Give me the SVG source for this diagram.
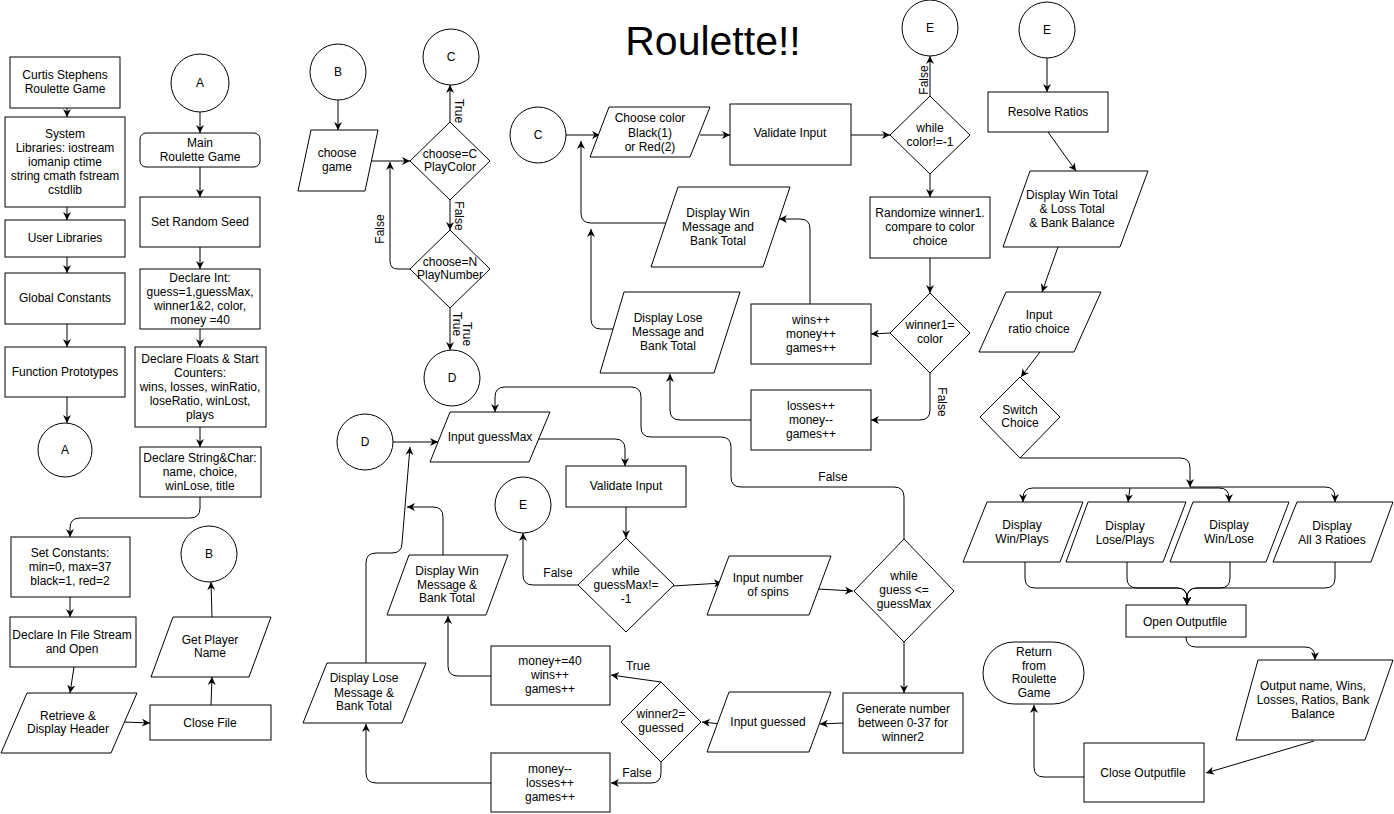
<svg xmlns="http://www.w3.org/2000/svg" width="1394" height="814" viewBox="0 0 1394 814">
<style>
.s{fill:#fff;stroke:#000;stroke-width:1}
text{font-family:'Liberation Sans',Arial,Helvetica,sans-serif;font-size:12px;fill:#000;text-anchor:middle}
.e{fill:none;stroke:#000;stroke-width:1;marker-end:url(#ah)}
.title{font-size:41px}
</style>
<defs>
<marker id="ah" viewBox="0 0 10 10" refX="10" refY="5" markerWidth="8" markerHeight="8" markerUnits="userSpaceOnUse" orient="auto">
<path d="M0,0 L10,5 L0,10 L3,5 z" fill="#000"/>
</marker>
</defs>
<rect width="1394" height="814" fill="#fff"/>
<text class="title" x="713" y="55">Roulette!!</text>

<g id="connectors">
<path class="e" d="M67,108 L67,117"/>
<path class="e" d="M67,207 L67,220"/>
<path class="e" d="M67,257 L67,273"/>
<path class="e" d="M67,324 L67,347"/>
<path class="e" d="M67,397 L67,423"/>
<path class="e" d="M200,112 L200,133"/>
<path class="e" d="M200,167 L200,197"/>
<path class="e" d="M200,247 L200,269"/>
<path class="e" d="M200,329 L200,347"/>
<path class="e" d="M200,427 L200,447"/>
<path class="e" d="M200,497 L200,508 Q200,518 190,518 L80,518 Q70,518 70,528 L70,537"/>
<path class="e" d="M70,597 L70,617"/>
<path class="e" d="M74,667 L70,693"/>
<path class="e" d="M124,722 L150,723"/>
<path class="e" d="M211,705 L212,677"/>
<path class="e" d="M212,617 L211,582"/>
<path class="e" d="M338,100 L338,130"/>
<path class="e" d="M371,161 L410,161"/>
<path class="e" d="M450,122 L450,85"/>
<path class="e" d="M450,200 L450,230"/>
<path class="e" d="M410,269 L398,269 Q390,269 390,261 L390,162"/>
<path class="e" d="M450,308 L450,350"/>
<path class="e" d="M566,135 L600,135"/>
<path class="e" d="M700,135 L730,135"/>
<path class="e" d="M851,135 L890,135"/>
<path class="e" d="M930,96 L930,56"/>
<path class="e" d="M930,174 L930,197"/>
<path class="e" d="M930,258 L930,293"/>
<path class="e" d="M890,333 L871,334"/>
<path class="e" d="M810,304 L810,229 Q810,219 800,219 L779,219"/>
<path class="e" d="M666,223 L591,223 Q581,223 581,213 L581,141"/>
<path class="e" d="M613,329 L601,329 Q591,329 591,319 L591,229"/>
<path class="e" d="M930,373 L930,410 Q930,420 920,420 L871,420"/>
<path class="e" d="M751,420 L680,420 Q670,420 670,410 L670,374"/>
<path class="e" d="M393,442 L438,442"/>
<path class="e" d="M539,439 L615,439 Q625,439 625,449 L625,466"/>
<path class="e" d="M626,507 L626,538"/>
<path class="e" d="M578,585 L533,585 Q523,585 523,575 L523,533"/>
<path class="e" d="M673,586 L722,583"/>
<path class="e" d="M818,589 L853,591"/>
<path class="e" d="M904,539 L904,497 Q904,487 894,487 L741,487 Q731,487 731,477 L731,447 Q731,437 721,437 L651,437 Q641,437 641,427 L641,397 Q641,387 631,387 L505,387 Q495,387 495,397 L495,412"/>
<path class="e" d="M904,642 L904,693"/>
<path class="e" d="M843,723 L820,724"/>
<path class="e" d="M722,724 L702,722"/>
<path class="e" d="M661,682 L611,675"/>
<path class="e" d="M491,676 L458,676 Q448,676 448,666 L448,616"/>
<path class="e" d="M443,555 L443,517 Q443,507 433,507 L407,507"/>
<path class="e" d="M366,663 L366,563 Q366,553 376,553 L392,553 Q402,553 402,543 L410,447"/>
<path class="e" d="M661,762 L661,773 Q661,783 651,783 L611,783"/>
<path class="e" d="M491,783 L376,783 Q366,783 366,773 L366,724"/>
<path class="e" d="M1047,58 L1047,92"/>
<path class="e" d="M1048,132 L1076,171"/>
<path class="e" d="M1058,247 L1042,292"/>
<path class="e" d="M1040,352 L1021,377"/>
<path class="e" d="M1020,458 L1180,458 Q1190,458 1190,468 L1190,487"/>
<path class="e" d="M1190,488 L1033,488 Q1023,488 1023,498 L1023,502"/>
<path class="e" d="M1130,488 L1128,502"/>
<path class="e" d="M1190,488 L1219,488 Q1229,488 1229,498 L1229,502"/>
<path class="e" d="M1190,487 L1325,487 Q1335,487 1335,497 L1335,502"/>
<path class="e" d="M1025,562 L1025,578 Q1025,588 1035,588 L1177,588 Q1187,588 1187,598 L1187,605"/>
<path class="e" d="M1127,562 L1127,578 Q1127,588 1137,588 L1177,588 Q1187,588 1187,598 L1187,605"/>
<path class="e" d="M1230,562 L1230,578 Q1230,588 1220,588 L1197,588 Q1187,588 1187,598 L1187,605"/>
<path class="e" d="M1335,562 L1335,578 Q1335,588 1325,588 L1197,588 Q1187,588 1187,598 L1187,605"/>
<path class="e" d="M1186,637 Q1186,647 1196,647 L1305,647 Q1315,647 1315,657 L1315,660"/>
<path class="e" d="M1314,741 L1206,773"/>
<path class="e" d="M1084,777 L1044,777 Q1034,777 1034,767 L1034,705"/>
<text transform="translate(459,111) rotate(90)" x="0" y="4">True</text>
<text transform="translate(459,216) rotate(90)" x="0" y="4">False</text>
<text transform="translate(380,229) rotate(-90)" x="0" y="4">False</text>
<text transform="translate(457,324) rotate(90)" x="0" y="4">True</text>
<text transform="translate(467,334) rotate(90)" x="0" y="4">True</text>
<text transform="translate(924,80) rotate(-90)" x="0" y="4">False</text>
<text transform="translate(942,402) rotate(90)" x="0" y="4">False</text>
<text x="833" y="481">False</text>
<text x="558" y="577">False</text>
<text x="638" y="670">True</text>
<text x="637" y="777">False</text>
</g>

<g id="n_curtis"><rect class="s" x="10" y="57" width="110" height="51"/><text x="65" y="79">Curtis Stephens</text><text x="65" y="93">Roulette Game</text></g>
<g id="n_syslib"><rect class="s" x="5" y="117" width="120" height="90"/><text x="65" y="138">System</text><text x="65" y="152">Libraries: iostream</text><text x="65" y="166">iomanip ctime</text><text x="65" y="180">string cmath fstream</text><text x="65" y="194">cstdlib</text></g>
<g id="n_userlib"><rect class="s" x="5" y="220" width="120" height="37"/><text x="65" y="242">User Libraries</text></g>
<g id="n_globconst"><rect class="s" x="5" y="273" width="120" height="51"/><text x="65" y="302">Global Constants</text></g>
<g id="n_funcproto"><rect class="s" x="5" y="347" width="120" height="50"/><text x="65" y="376">Function Prototypes</text></g>
<g id="n_a1"><circle class="s" cx="65" cy="450" r="27"/><text x="65" y="454">A</text></g>

<g id="n_a2"><circle class="s" cx="200" cy="83" r="29"/><text x="200" y="87">A</text></g>
<g id="n_main"><rect class="s" x="140" y="133" width="120" height="34" rx="6"/><text x="200" y="147">Main</text><text x="200" y="161">Roulette Game</text></g>
<g id="n_seed"><rect class="s" x="140" y="197" width="120" height="50"/><text x="200" y="226">Set Random Seed</text></g>
<g id="n_int"><rect class="s" x="140" y="269" width="120" height="60"/><text x="200" y="282">Declare Int:</text><text x="200" y="296">guess=1,guessMax,</text><text x="200" y="310">winner1&amp;2, color,</text><text x="200" y="324">money =40</text></g>
<g id="n_floats"><rect class="s" x="135" y="347" width="131" height="80"/><text x="200" y="363">Declare Floats &amp; Start</text><text x="200" y="377">Counters:</text><text x="200" y="391">wins, losses, winRatio,</text><text x="200" y="405">loseRatio, winLost,</text><text x="200" y="419">plays</text></g>
<g id="n_string"><rect class="s" x="140" y="447" width="121" height="50"/><text x="200" y="462">Declare String&amp;Char:</text><text x="200" y="476">name, choice,</text><text x="200" y="490">winLose, title</text></g>
<g id="n_setconst"><rect class="s" x="11" y="537" width="119" height="60"/><text x="70" y="557">Set Constants:</text><text x="70" y="571">min=0, max=37</text><text x="70" y="585">black=1, red=2</text></g>
<g id="n_instream"><rect class="s" x="10" y="617" width="126" height="50"/><text x="72" y="639">Declare In File Stream</text><text x="72" y="653">and Open</text></g>
<g id="n_retrieve"><polygon class="s" points="27,693 137,693 111,753 1,753"/><text x="68" y="720">Retrieve &amp;</text><text x="68" y="733">Display Header</text></g>
<g id="n_closefile"><rect class="s" x="150" y="705" width="121" height="35"/><text x="210" y="727">Close File</text></g>
<g id="n_getname"><polygon class="s" points="173,617 271,617 249,677 151,677"/><text x="210" y="644">Get Player</text><text x="210" y="657">Name</text></g>
<g id="n_b1"><circle class="s" cx="209" cy="554" r="28"/><text x="209" y="558">B</text></g>

<g id="n_b2"><circle class="s" cx="338" cy="72" r="28"/><text x="338" y="76">B</text></g>
<g id="n_choosegame"><polygon class="s" points="311,130 378,130 365,191 298,191"/><text x="337" y="157">choose</text><text x="337" y="171">game</text></g>
<g id="n_dC"><polygon class="s" points="450,122 490,161 450,200 410,161"/><text x="450" y="158">choose=C</text><text x="450" y="171">PlayColor</text></g>
<g id="n_c1"><circle class="s" cx="451" cy="57" r="28"/><text x="451" y="61">C</text></g>
<g id="n_dN"><polygon class="s" points="450,230 490,269 450,308 410,269"/><text x="450" y="266">choose=N</text><text x="450" y="279">PlayNumber</text></g>
<g id="n_d1"><circle class="s" cx="452" cy="378" r="28"/><text x="452" y="382">D</text></g>

<g id="n_c2"><circle class="s" cx="538" cy="135" r="28"/><text x="538" y="139">C</text></g>
<g id="n_choosecolor"><polygon class="s" points="609,107 710,107 690,157 590,157"/><text x="650" y="122">Choose color</text><text x="650" y="137">Black(1)</text><text x="650" y="151">or Red(2)</text></g>
<g id="n_validate1"><rect class="s" x="730" y="104" width="121" height="61"/><text x="790" y="137">Validate Input</text></g>
<g id="n_whilecolor"><polygon class="s" points="930,96 970,135 930,174 890,135"/><text x="930" y="132">while</text><text x="930" y="146">color!=-1</text></g>
<g id="n_e1"><circle class="s" cx="930" cy="28" r="28"/><text x="930" y="32">E</text></g>
<g id="n_randomize"><rect class="s" x="870" y="197" width="120" height="61"/><text x="930" y="217">Randomize winner1.</text><text x="930" y="231">compare to color</text><text x="930" y="245">choice</text></g>
<g id="n_winner1"><polygon class="s" points="930,293 970,333 930,373 890,333"/><text x="930" y="329">winner1=</text><text x="930" y="343">color</text></g>
<g id="n_wins1"><rect class="s" x="751" y="304" width="120" height="60"/><text x="811" y="324">wins++</text><text x="811" y="338">money++</text><text x="811" y="352">games++</text></g>
<g id="n_losses1"><rect class="s" x="751" y="390" width="120" height="60"/><text x="811" y="410">losses++</text><text x="811" y="424">money--</text><text x="811" y="438">games++</text></g>
<g id="n_dispwin1"><polygon class="s" points="678,187 790,187 763,267 651,267"/><text x="718" y="217">Display Win</text><text x="718" y="231">Message and</text><text x="718" y="245">Bank Total</text></g>
<g id="n_displose1"><polygon class="s" points="624,292 740,292 714,373 600,373"/><text x="668" y="322">Display Lose</text><text x="668" y="336">Message and</text><text x="668" y="350">Bank Total</text></g>

<g id="n_d2"><circle class="s" cx="365" cy="442" r="28"/><text x="365" y="446">D</text></g>
<g id="n_inputmax"><polygon class="s" points="450,412 550,412 529,462 430,462"/><text x="490" y="441">Input guessMax</text></g>
<g id="n_validate2"><rect class="s" x="566" y="466" width="120" height="41"/><text x="626" y="490">Validate Input</text></g>
<g id="n_whilemax"><polygon class="s" points="626,538 674,585 626,632 578,585"/><text x="626" y="575">while</text><text x="626" y="589">guessMax!=</text><text x="626" y="603">-1</text></g>
<g id="n_e2"><circle class="s" cx="523" cy="505" r="28"/><text x="523" y="509">E</text></g>
<g id="n_spins"><polygon class="s" points="729,556 831,556 809,615 707,615"/><text x="768" y="582">Input number</text><text x="768" y="596">of spins</text></g>
<g id="n_whileguess"><polygon class="s" points="904,539 954,591 904,642 854,591"/><text x="904" y="580">while</text><text x="904" y="594">guess &lt;=</text><text x="904" y="608">guessMax</text></g>
<g id="n_generate"><rect class="s" x="843" y="693" width="120" height="60"/><text x="903" y="713">Generate number</text><text x="903" y="727">between 0-37 for</text><text x="903" y="741">winner2</text></g>
<g id="n_inputguessed"><polygon class="s" points="729,692 831,692 809,752 707,752"/><text x="768" y="726">Input guessed</text></g>
<g id="n_winner2"><polygon class="s" points="661,682 701,722 661,762 621,722"/><text x="661" y="718">winner2=</text><text x="661" y="732">guessed</text></g>
<g id="n_winmoney"><rect class="s" x="491" y="646" width="119" height="59"/><text x="550" y="665">money+=40</text><text x="550" y="679">wins++</text><text x="550" y="693">games++</text></g>
<g id="n_losemoney"><rect class="s" x="491" y="753" width="119" height="59"/><text x="550" y="773">money--</text><text x="550" y="787">losses++</text><text x="550" y="801">games++</text></g>
<g id="n_dispwin2"><polygon class="s" points="409,555 508,555 486,615 387,615"/><text x="447" y="575">Display Win</text><text x="447" y="589">Message &amp;</text><text x="447" y="602">Bank Total</text></g>
<g id="n_displose2"><polygon class="s" points="327,663 426,663 402,723 303,723"/><text x="364" y="682">Display Lose</text><text x="364" y="697">Message &amp;</text><text x="364" y="710">Bank Total</text></g>

<g id="n_e3"><circle class="s" cx="1047" cy="30" r="28"/><text x="1047" y="34">E</text></g>
<g id="n_resolve"><rect class="s" x="988" y="92" width="120" height="40"/><text x="1048" y="116">Resolve Ratios</text></g>
<g id="n_disptotal"><polygon class="s" points="1030,171 1148,171 1120,247 1003,247"/><text x="1072" y="199">Display Win Total</text><text x="1072" y="213">&amp; Loss Total</text><text x="1072" y="227">&amp; Bank Balance</text></g>
<g id="n_inputratio"><polygon class="s" points="1006,292 1101,292 1074,352 979,352"/><text x="1039" y="319">Input</text><text x="1039" y="333">ratio choice</text></g>
<g id="n_switch"><polygon class="s" points="1020,377 1060,417 1020,458 980,417"/><text x="1020" y="414">Switch</text><text x="1020" y="427">Choice</text></g>
<g id="n_winplays"><polygon class="s" points="987,502 1083,502 1060,562 963,562"/><text x="1022" y="529">Display</text><text x="1022" y="543">Win/Plays</text></g>
<g id="n_loseplays"><polygon class="s" points="1088,502 1186,502 1163,562 1066,562"/><text x="1125" y="530">Display</text><text x="1125" y="544">Lose/Plays</text></g>
<g id="n_winlose"><polygon class="s" points="1193,502 1289,502 1266,562 1170,562"/><text x="1229" y="529">Display</text><text x="1229" y="543">Win/Lose</text></g>
<g id="n_all3"><polygon class="s" points="1297,502 1393,502 1371,562 1273,562"/><text x="1332" y="530">Display</text><text x="1332" y="544">All 3 Ratioes</text></g>
<g id="n_openout"><rect class="s" x="1126" y="605" width="120" height="32"/><text x="1185" y="626">Open Outputfile</text></g>
<g id="n_outputname"><polygon class="s" points="1258,660 1393,660 1365,740 1236,740"/><text x="1313" y="690">Output name, Wins,</text><text x="1313" y="704">Losses, Ratios, Bank</text><text x="1313" y="718">Balance</text></g>
<g id="n_closeout"><rect class="s" x="1084" y="743" width="120" height="59"/><text x="1143" y="777">Close Outputfile</text></g>
<g id="n_return"><rect class="s" x="983" y="642" width="101" height="62" rx="31" ry="31"/><text x="1034" y="656">Return</text><text x="1034" y="670">from</text><text x="1034" y="683">Roulette</text><text x="1034" y="697">Game</text></g>
</svg>
